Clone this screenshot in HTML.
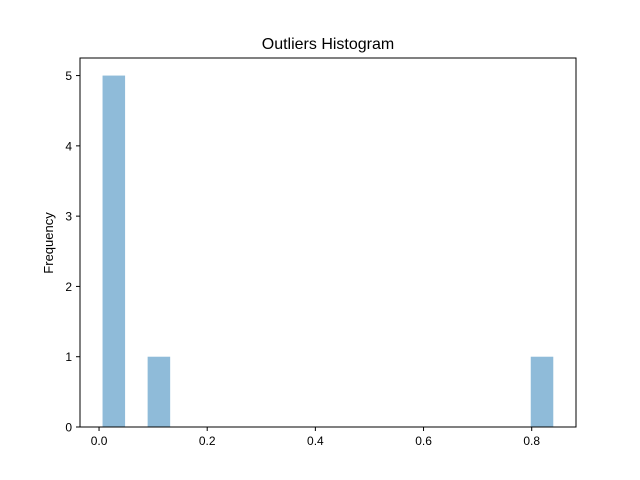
<!DOCTYPE html>
<html><head><meta charset="utf-8"><style>
body{margin:0;background:#fff}
svg{display:block;font-family:"Liberation Sans","DejaVu Sans",sans-serif}
</style></head><body>
<svg id="chart" width="640" height="480">
<text x="328" y="49" text-anchor="middle" font-size="16">Outliers Histogram</text>
<text transform="translate(53,243) rotate(-90)" text-anchor="middle" font-size="13">Frequency</text>
<g id="bars"></g>
<g id="axes"></g>
<rect x="80" y="58" width="496" height="369" fill="none" stroke="#000" stroke-width="1"/>
</svg>
<script>
const binStart = 0.0065;
const binWidth = 0.04167;
const counts = [5,0,1,0,0,0,0,0,0,0,0,0,0,0,0,0,0,0,0,1];
const xTicks = [0.0,0.2,0.4,0.6,0.8];
const xTickLabels = ["0.0","0.2","0.4","0.6","0.8"];
const yTicks = [0,1,2,3,4,5];
const yTickLabels = ["0","1","2","3","4","5"];

const xMin=-0.0352, xMax=0.8819, yMin=0, yMax=5.25;
const L=80,R=576,T=58,B=427;
const sx=v=>L+(v-xMin)/(xMax-xMin)*(R-L);
const sy=v=>B-(v-yMin)/(yMax-yMin)*(B-T);
const NS="http://www.w3.org/2000/svg";
const bars=document.getElementById('bars'), axes=document.getElementById('axes');
counts.forEach((c,i)=>{
  if(!c) return;
  const r=document.createElementNS(NS,'rect');
  const x0=sx(binStart+i*binWidth), x1=sx(binStart+(i+1)*binWidth);
  r.setAttribute('x',x0);r.setAttribute('width',x1-x0);
  r.setAttribute('y',sy(c));r.setAttribute('height',sy(0)-sy(c));
  r.setAttribute('fill','#8fbbd9');
  
  
  bars.appendChild(r);
});
xTicks.forEach((v,i)=>{
  const x=sx(v);
  const l=document.createElementNS(NS,'line');
  l.setAttribute('x1',x);l.setAttribute('x2',x);l.setAttribute('y1',B);l.setAttribute('y2',B+4);l.setAttribute('stroke','#000');
  
  
  axes.appendChild(l);
  const t=document.createElementNS(NS,'text');
  t.setAttribute('x',x);t.setAttribute('y',B+18);t.setAttribute('text-anchor','middle');t.setAttribute('font-size','12');
  t.textContent=xTickLabels[i];
  
  
  axes.appendChild(t);
});
yTicks.forEach((v,i)=>{
  const y=sy(v);
  const l=document.createElementNS(NS,'line');
  l.setAttribute('x1',L-4);l.setAttribute('x2',L);l.setAttribute('y1',y);l.setAttribute('y2',y);l.setAttribute('stroke','#000');
  
  
  axes.appendChild(l);
  const t=document.createElementNS(NS,'text');
  t.setAttribute('x',L-8);t.setAttribute('y',y+4.5);t.setAttribute('text-anchor','end');t.setAttribute('font-size','12');
  t.textContent=yTickLabels[i];
  
  
  axes.appendChild(t);
});
</script>
</body></html>
